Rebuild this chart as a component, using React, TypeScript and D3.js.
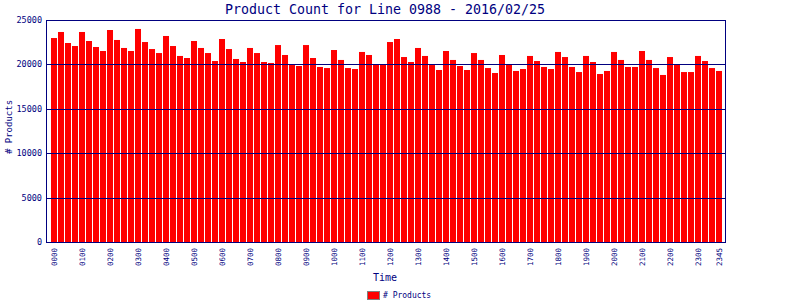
import React from "react";
import * as d3 from "d3";

const times: string[] = [];
for (let h = 0; h < 24; h++) for (let m = 0; m < 60; m += 15) times.push(String(h).padStart(2, "0") + String(m).padStart(2, "0"));

const counts: number[] = [
  22970, 23650, 22410, 22070, 23650, 22635, 21960, 21510,
  23874, 22750, 21850, 21510, 23990, 22520, 21730, 21280,
  23200, 22070, 20950, 20720, 22635, 21850, 21280, 20380,
  22860, 21730, 20610, 20270, 21850, 21280, 20270, 20160,
  22180, 21060, 19930, 19820, 22180, 20720, 19710, 19590,
  21620, 20500, 19590, 19480, 21400, 21060, 20040, 20040,
  22520, 22860, 20830, 20270, 21850, 20950, 19930, 19370,
  21510, 20500, 19820, 19370, 21280, 20500, 19590, 19030,
  21060, 20040, 19260, 19480, 20950, 20380, 19710, 19480,
  21400, 20830, 19710, 19140, 20950, 20270, 18920, 19260,
  21400, 20500, 19710, 19710, 21510, 20500, 19590, 18810,
  20830, 20040, 19140, 19140, 20950, 20380, 19590, 19260,
];

const yTicks: number[] = [0, 5000, 10000, 15000, 20000, 25000];
const gridValues: number[] = [5000, 10000, 15000, 20000];
const xTickLabels: string[] = times.filter((t, i) => t.endsWith("00") || i === times.length - 1);

const title = "Product Count for Line 0988 - 2016/02/25";
const NAVY = "#000080";
const FONT = "'DejaVu Sans Mono', monospace";

export default function App() {
  const x = d3.scaleBand<string>().domain(times).range([50.5, 722.5]).paddingInner(1 / 7).paddingOuter(1 / 14);
  const y = d3.scaleLinear().domain([0, 25000]).range([242, 20]);
  return (
    <svg width={800} height={300} style={{ position: "absolute", left: 0, top: 0, background: "#fff" }}>
      <rect x={0} y={0} width={800} height={300} fill="#fff" />
      <text x={385} y={14} textAnchor="middle" fontFamily={FONT} fontSize={13.3} fill={NAVY}>{title}</text>
      {times.map((t, i) => (
        <rect key={t} x={Math.round(x(t)!)} y={y(counts[i])} width={Math.round(x.bandwidth())} height={242 - y(counts[i])} fill="#ff0000" />
      ))}
      {gridValues.map((v) => (
        <line key={v} x1={46} x2={725} y1={Math.round(y(v)) + 0.5} y2={Math.round(y(v)) + 0.5} stroke={NAVY} strokeWidth={1} />
      ))}
      <rect x={46.5} y={20.5} width={679} height={222} fill="none" stroke={NAVY} strokeWidth={1} />
      {yTicks.map((v) => (
        <text key={v} x={42} y={y(v)} dy="0.35em" textAnchor="end" fontFamily={FONT} fontSize={8.5} fill={NAVY}>{v}</text>
      ))}
      {xTickLabels.map((t) => {
        const cx = x(t)! + x.bandwidth() / 2;
        return (
          <text key={t} transform={`translate(${cx},248) rotate(-90)`} dy="0.35em" textAnchor="end" fontFamily={FONT} fontSize={7.5} fill={NAVY}>{t}</text>
        );
      })}
      <text x={385} y={281} textAnchor="middle" fontFamily={FONT} fontSize={10} fill={NAVY}>Time</text>
      <text transform="translate(9,127) rotate(-90)" textAnchor="middle" dy="0.35em" fontFamily={FONT} fontSize={9} fill={NAVY}>{"# Products"}</text>
      <rect x={367.5} y={291.5} width={12} height={8} fill="#ff0000" stroke="#808080" strokeWidth={1} />
      <text x={383} y={295.5} dy="0.35em" fontFamily={FONT} fontSize={8} fill={NAVY}>{"# Products"}</text>
    </svg>
  );
}
